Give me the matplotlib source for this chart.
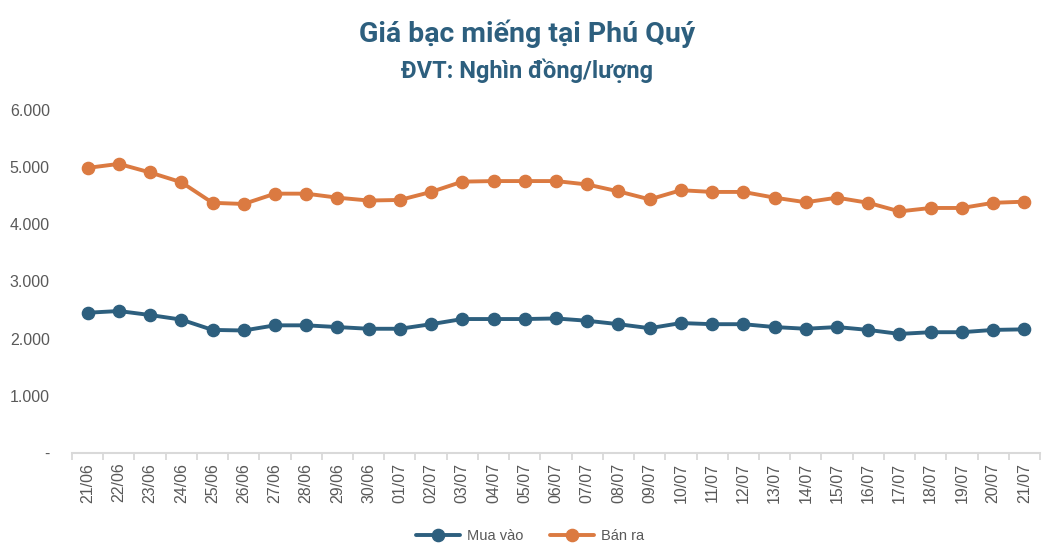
import matplotlib
matplotlib.use("Agg")
import matplotlib.pyplot as plt
from matplotlib.ticker import FixedLocator, FuncFormatter

dates = ["21/06", "22/06", "23/06", "24/06", "25/06", "26/06", "27/06", "28/06", "29/06", "30/06",
         "01/07", "02/07", "03/07", "04/07", "05/07", "06/07", "07/07", "08/07", "09/07", "10/07",
         "11/07", "12/07", "13/07", "14/07", "15/07", "16/07", "17/07", "18/07", "19/07", "20/07", "21/07"]
mua_vao = [2450, 2480, 2410, 2330, 2150, 2140, 2230, 2230, 2200, 2170,
           2170, 2250, 2340, 2340, 2340, 2350, 2310, 2250, 2180, 2270,
           2250, 2250, 2200, 2170, 2200, 2150, 2080, 2110, 2110, 2150, 2160]
ban_ra = [4980, 5050, 4900, 4730, 4370, 4350, 4530, 4530, 4460, 4410,
          4420, 4560, 4740, 4750, 4750, 4750, 4690, 4570, 4430, 4590,
          4560, 4560, 4460, 4380, 4460, 4370, 4220, 4280, 4280, 4370, 4390]
y_ticks = [0, 1000, 2000, 3000, 4000, 5000, 6000]
title = "Giá bạc miếng tại Phú Quý"
subtitle = "ĐVT: Nghìn đồng/lượng"
series_names = ["Mua vào", "Bán ra"]

BLUE = "#2D5F7E"
ORANGE = "#DB7A41"
GREY = "#595959"
AXIS = "#D9D9D9"
TITLE_FONT = ["Liberation Sans Narrow", "Roboto", "DejaVu Sans"]
LABEL_FONT = ["Liberation Sans", "DejaVu Sans"]

fig = plt.figure(figsize=(10.6, 5.56), dpi=100)
ax = fig.add_axes([72 / 1060, 1 - 453 / 556, (1040 - 72) / 1060, (453 - 109.5) / 556])

x = list(range(len(dates)))
ax.plot(x, mua_vao, color=BLUE, lw=2.8, marker="o", ms=8.8, label=series_names[0],
        solid_joinstyle="round", solid_capstyle="round")
ax.plot(x, ban_ra, color=ORANGE, lw=2.8, marker="o", ms=8.8, label=series_names[1],
        solid_joinstyle="round", solid_capstyle="round")

ax.set_xlim(-0.5, len(dates) - 0.5)
ax.set_ylim(0, 6000)
ax.set_xticks(x)
ax.set_xticklabels(dates, rotation=90, fontsize=11.5, color=GREY, family=LABEL_FONT)
ax.xaxis.set_minor_locator(FixedLocator([i - 0.5 for i in range(len(dates) + 1)]))
ax.tick_params(axis="x", which="major", length=0, pad=7)
ax.tick_params(axis="x", which="minor", length=5, color=AXIS, width=1.3)

ax.set_yticks(y_ticks)
ax.yaxis.set_major_formatter(FuncFormatter(
    lambda v, p: "-" if v == 0 else f"{int(v):,}".replace(",", ".")))
ax.tick_params(axis="y", length=0, pad=16, labelsize=11.5, labelcolor=GREY)
for lab in ax.get_yticklabels():
    lab.set_family(LABEL_FONT)

for s in ["top", "right", "left"]:
    ax.spines[s].set_visible(False)
ax.spines["bottom"].set_color(AXIS)
ax.spines["bottom"].set_linewidth(1.5)

fig.text(0.497, 1 - 34 / 556, title, ha="center", va="center", fontsize=20.5,
         fontweight="bold", color=BLUE, family=TITLE_FONT)
fig.text(0.497, 1 - 71 / 556, subtitle, ha="center", va="center", fontsize=17,
         fontweight="bold", color=BLUE, family=TITLE_FONT)

leg = fig.legend(loc="center", bbox_to_anchor=(0.5, 1 - 536 / 556), ncol=2, frameon=False,
                 prop={"family": LABEL_FONT, "size": 10.5}, handlelength=3.0, columnspacing=1.8,
                 handletextpad=0.5)
for t in leg.get_texts():
    t.set_color(GREY)

fig.savefig("out.png", dpi=100)
